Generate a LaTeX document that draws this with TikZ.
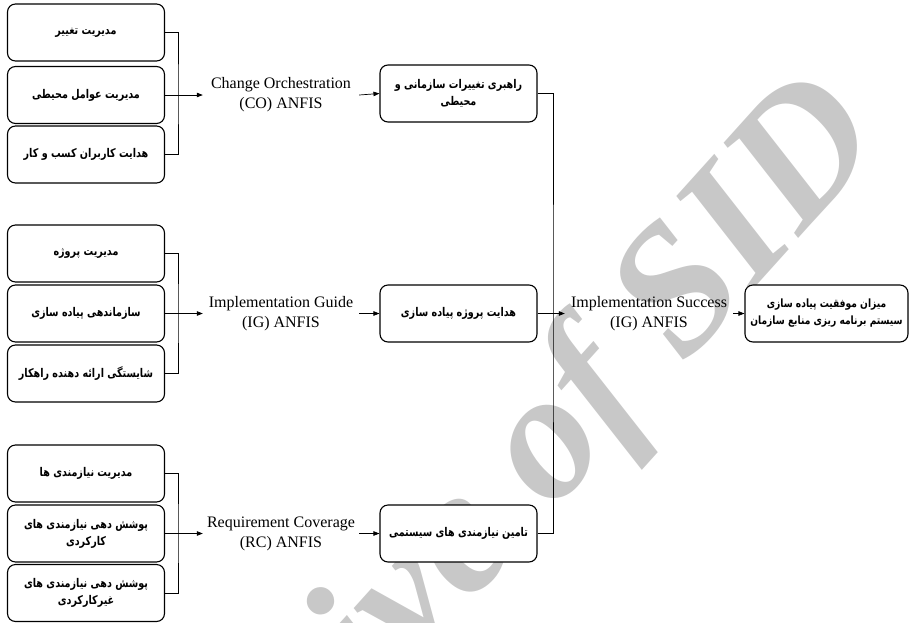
\documentclass[tikz,border=0pt]{standalone}
\usepackage{fontspec}
\setmainfont{Liberation Serif}
\newfontfamily\fafont[Script=Arabic,FakeStretch=0.8]{DejaVu Sans}
\TeXXeTstate=1
\usetikzlibrary{arrows.meta}
\definecolor{wm}{RGB}{200,200,200}
\newcommand{\myrtl}[1]{\beginR #1\endR}
\begin{document}
\begin{tikzpicture}[x=1pt,y=-1pt,
 box/.style={draw, line width=1.1pt, rounded corners=8pt, fill=white, minimum height=57pt, align=center, font=\fafont\bfseries\fontsize{12}{17}\selectfont, inner sep=2pt},
 lbox/.style={box, minimum width=157pt},
 mbox/.style={box, minimum width=157pt},
 finbox/.style={box, minimum width=163pt, font=\fafont\bfseries\fontsize{11.4}{17}\selectfont},
 lbl/.style={align=center, font=\fontsize{16}{20}\selectfont, inner sep=0pt},
 conn/.style={line width=0.7pt},
 arr/.style={conn, -{Triangle[length=6pt,width=4.5pt]}}]
\useasboundingbox (0,0) rectangle (911,622);
% watermark
\node[rotate=48, anchor=base east, text=wm, font=\fontsize{182}{182}\selectfont\bfseries\itshape, inner sep=0pt] (wmk) at (888,140) {Archive of SID};
% group 1
\node[lbox] (a1) at (86,32.5) {\myrtl{مدیریت تغییر}};
\node[lbox] (a2) at (86,95) {\myrtl{مدیریت عوامل محیطی}};
\node[lbox] (a3) at (86,154.5) {\myrtl{هدایت کاربران کسب و کار}};
% group 2
\node[lbox] (b1) at (86,253.5) {\myrtl{مدیریت پروژه}};
\node[lbox] (b2) at (86,313.5) {\myrtl{سازماندهی پیاده سازی}};
\node[lbox] (b3) at (86,373.5) {\myrtl{شایستگی ارائه دهنده راهکار}};
% group 3
\node[lbox] (c1) at (86,473.5) {\myrtl{مدیریت نیازمندی ها}};
\node[lbox] (c2) at (86,533.5) {\myrtl{پوشش دهی نیازمندی های}\\\myrtl{کارکردی}};
\node[lbox] (c3) at (86,593) {\myrtl{پوشش دهی نیازمندی های}\\\myrtl{غیرکارکردی}};
% labels
\node[lbl, minimum width=156pt] (co) at (281,95) {Change Orchestration\\(CO) ANFIS};
\node[lbl, minimum width=156pt] (ig) at (281,313.5) {Implementation Guide\\(IG) ANFIS};
\node[lbl, minimum width=156pt] (rc) at (281,533.5) {Requirement Coverage\\(RC) ANFIS};
% middle boxes
\node[mbox] (m1) at (458.5,93.5) {\myrtl{راهبری تغییرات سازمانی و}\\\myrtl{محیطی}};
\node[mbox] (m2) at (458.5,313.5) {\myrtl{هدایت پروژه پیاده سازی}};
\node[mbox] (m3) at (458.5,533.5) {\myrtl{تامین نیازمندی های سیستمی}};
% success
\node[lbl, minimum width=168pt] (is) at (649,313.5) {Implementation Success\\(IG) ANFIS};
\node[finbox] (fin) at (826.5,313.5) {\myrtl{میزان موفقیت پیاده سازی}\\\myrtl{سیستم برنامه ریزی منابع سازمان}};
% connectors group 1
\coordinate (ja) at (178,95);
\draw[conn] (a1.east) -| (ja) |- (a3.east);
\draw[arr] (a2.east) -- (co.west);
\draw[arr] (co.east) -- (m1.west);
% group 2
\coordinate (jb) at (178,313.5);
\draw[conn] (b1.east) -| (jb) |- (b3.east);
\draw[arr] (b2.east) -- (ig.west);
\draw[arr] (ig.east) -- (m2.west);
% group 3
\coordinate (jc) at (178,533.5);
\draw[conn] (c1.east) -| (jc) |- (c3.east);
\draw[arr] (c2.east) -- (rc.west);
\draw[arr] (rc.east) -- (m3.west);
% right side
\coordinate (jr) at (553,313.5);
\draw[conn] (m1.east) -| (jr) |- (m3.east);
\draw[arr] (m2.east) -- (is.west);
\draw[arr] (is.east) -- (fin.west);
\end{tikzpicture}
\end{document}
